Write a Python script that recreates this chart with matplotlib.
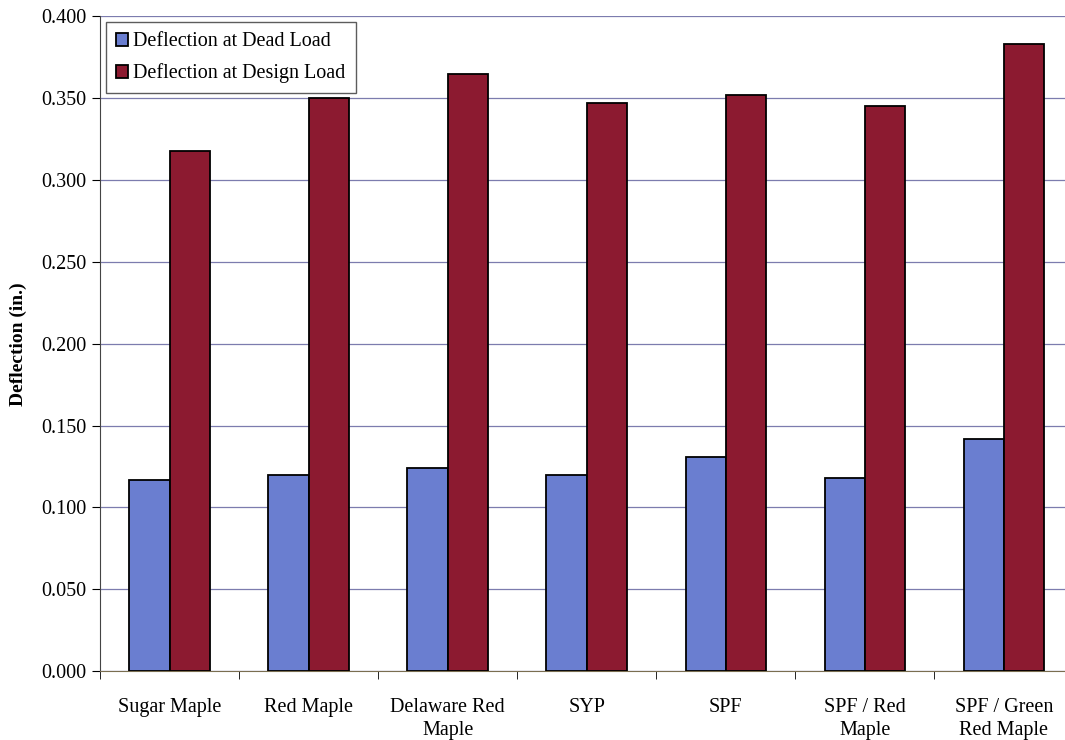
import numpy as np
import matplotlib
matplotlib.use("Agg")
import matplotlib.pyplot as plt
from matplotlib.ticker import FixedLocator, FormatStrFormatter

# ── Data ──────────────────────────────────────────────────────────────────────
species = ["Sugar Maple", "Red Maple", "Delaware Red\nMaple", "SYP", "SPF",
           "SPF / Red\nMaple", "SPF / Green\nRed Maple"]
dead_load = [0.117, 0.120, 0.124, 0.120, 0.131, 0.118, 0.142]
design_load = [0.318, 0.350, 0.365, 0.347, 0.352, 0.345, 0.383]
y_ticks = [0.000, 0.050, 0.100, 0.150, 0.200, 0.250, 0.300, 0.350, 0.400]

BLUE = "#6a7ed0"
RED = "#8c1a30"

plt.rcParams["font.family"] = ["Liberation Serif", "DejaVu Serif"]

fig = plt.figure(figsize=(10.65, 7.4), dpi=100, facecolor="white")
ax = fig.add_axes([0.094, 0.093, 0.914, 0.885])

x = np.arange(len(species))
w = 0.29
ax.bar(x - w / 2, dead_load, w, color=BLUE, edgecolor="black", linewidth=1.3,
       label="Deflection at Dead Load", zorder=3)
ax.bar(x + w / 2, design_load, w, color=RED, edgecolor="black", linewidth=1.3,
       label="Deflection at Design Load", zorder=3)

ax.set_xlim(-0.5, len(species) - 0.5)
ax.set_ylim(0, 0.4)
ax.set_yticks(y_ticks)
ax.yaxis.set_major_formatter(FormatStrFormatter("%.3f"))
ax.set_xticks(x)
ax.set_xticklabels(species, fontsize=14.5, linespacing=1.35)
ax.xaxis.set_minor_locator(FixedLocator(np.arange(-0.5, len(species), 1.0)))
ax.tick_params(axis="x", which="major", length=0, pad=19)
ax.tick_params(axis="x", which="minor", length=6, direction="out")
ax.tick_params(axis="y", length=6, direction="out", labelsize=14.5, pad=4)

ax.grid(axis="y", color="#7c7cae", linewidth=0.9, zorder=0)
ax.set_axisbelow(True)
for side in ["top", "right"]:
    ax.spines[side].set_visible(False)
ax.spines["left"].set_color("#444444")
ax.spines["bottom"].set_color("#7a6e50")

ax.set_ylabel("Deflection (in.)", fontsize=14, fontweight="bold", labelpad=10)

leg = ax.legend(loc="upper left", bbox_to_anchor=(0.0, 1.0), fontsize=14.5,
                frameon=True, fancybox=False, edgecolor="#333333",
                handlelength=0.6, handleheight=0.6, handletextpad=0.25,
                labelspacing=0.6, borderpad=0.5, borderaxespad=0.3)
leg.get_frame().set_linewidth(1.0)

fig.savefig("out.png", dpi=100, facecolor="white")
